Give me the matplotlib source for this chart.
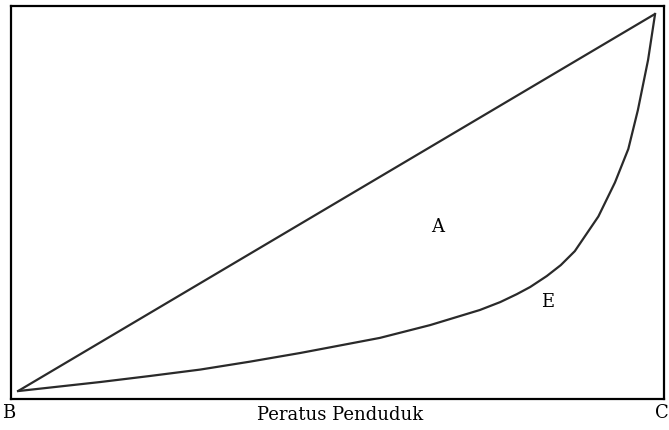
import matplotlib.pyplot as plt
import numpy as np

# Lorenz curve (percent of population vs percent of income)
pop_pct = [0, 12.9, 20.7, 28.6, 36.4, 44.3, 49.0, 56.8, 64.7, 72.5, 75.7, 78.3,
           80.4, 83.0, 85.2, 87.4, 91.1, 93.7, 95.8, 97.3, 98.9, 100]
income_pct = [0, 2.4, 4.0, 5.7, 7.8, 10.1, 11.6, 14.1, 17.5, 21.5, 23.6, 25.7,
              27.6, 30.5, 33.4, 37.1, 46.3, 55.3, 64.2, 74.5, 87.8, 100]
equality_x = [0, 100]
equality_y = [0, 100]

plt.rcParams['font.family'] = ['DejaVu Serif']

fig = plt.figure(figsize=(6.69, 4.31), dpi=100)
ax = fig.add_axes([11 / 669, 1 - 400 / 431, 653 / 669, 393 / 431])

ax.plot(equality_x, equality_y, color='#2a2a2a', lw=1.6, solid_capstyle='butt')
ax.plot(pop_pct, income_pct, color='#2a2a2a', lw=1.6, solid_joinstyle='round')

ax.set_xlim(-1.1, 101.4)
ax.set_ylim(-2.1, 102.1)
ax.set_xticks([])
ax.set_yticks([])
for s in ax.spines.values():
    s.set_linewidth(1.6)
    s.set_color('black')

ax.text(65.8, 43.8, 'A', fontsize=13, ha='center', va='center')
ax.text(83.2, 23.9, 'E', fontsize=13, ha='center', va='center')

fig.text(9 / 669, 1 - 413 / 431, 'B', fontsize=13, ha='center', va='center')
fig.text(669 / 669, 1 - 413 / 431, 'C', fontsize=13, ha='right', va='center')
fig.text(340 / 669, 1 - 415 / 431, 'Peratus Penduduk', fontsize=13, ha='center', va='center')

fig.savefig('out.png', dpi=100)
